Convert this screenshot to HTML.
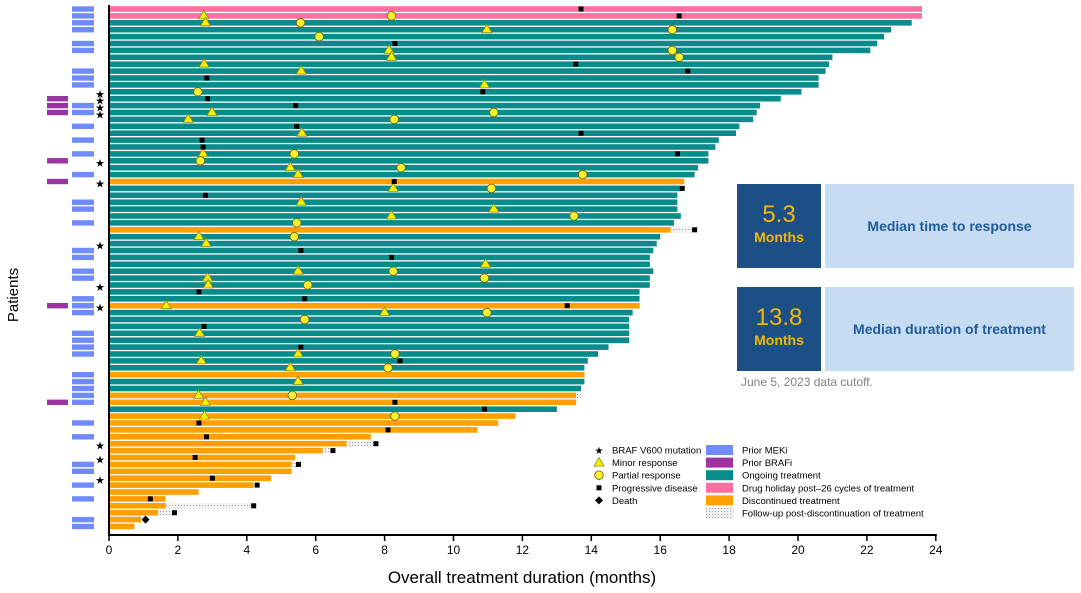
<!DOCTYPE html>
<html><head><meta charset="utf-8">
<style>
html,body{margin:0;padding:0;background:#fff;}
#wrap{position:relative;width:1081px;height:593px;overflow:hidden;font-family:"Liberation Sans",sans-serif;}
svg{position:absolute;left:0;top:0;}
.box{position:absolute;}
</style></head>
<body>
<div id="wrap">
<svg id="chart" width="1081" height="593"></svg>
<div class="box" style="left:737px;top:184px;width:84px;height:84px;background:#1b4f86;color:#f5b800;text-align:center;">
  <div style="font-size:24px;margin-top:18px;line-height:26px;">5.3</div>
  <div style="font-size:14px;font-weight:bold;line-height:18px;">Months</div>
</div>
<div class="box" style="left:825px;top:184px;width:249px;height:84px;background:#c6dcf2;color:#1f5a99;font-weight:bold;font-size:14px;line-height:84px;text-align:center;">Median time to response</div>
<div class="box" style="left:737px;top:287px;width:84px;height:84px;background:#1b4f86;color:#f5b800;text-align:center;">
  <div style="font-size:24px;margin-top:18px;line-height:26px;">13.8</div>
  <div style="font-size:14px;font-weight:bold;line-height:18px;">Months</div>
</div>
<div class="box" style="left:825px;top:287px;width:249px;height:84px;background:#c6dcf2;color:#1f5a99;font-weight:bold;font-size:14px;line-height:84px;text-align:center;">Median duration of treatment</div>
<div class="box" style="left:741px;top:375px;font-size:12px;color:#808080;">June 5, 2023 data cutoff.</div>
</div>
<script>
const durations=[23.6,23.6,23.3,22.7,22.5,22.3,22.1,21.0,20.9,20.8,20.6,20.6,20.1,19.5,18.9,18.8,18.7,18.3,18.2,17.7,17.6,17.4,17.4,17.1,17.0,16.7,16.6,16.5,16.5,16.5,16.6,16.4,16.3,16.0,15.9,15.8,15.7,15.7,15.8,15.7,15.7,15.4,15.4,15.4,15.2,15.1,15.1,15.1,15.1,14.5,14.2,13.9,13.8,13.8,13.8,13.7,13.56,13.56,13.0,11.8,11.3,10.7,7.6,6.9,6.2,5.4,5.3,5.3,4.7,4.2,2.6,1.64,1.64,1.43,0.93,0.74];
const pinkRows=[0,1];
const orangeRows=[25,32,43,53,56,57,59,60,61,62,63,64,65,66,67,68,69,70,71,72,73,74,75];
const followRows=[32,56,63,64,66,72,73];
const followEnd=[17.0,13.7,7.75,6.5,5.5,4.2,1.9];
const squarePts=[[0,13.7],[1,16.55],[5,8.3],[8,13.55],[9,16.8],[10,2.84],[12,10.85],[13,2.86],[14,5.42],[17,5.45],[18,13.7],[19,2.7],[20,2.73],[21,16.5],[25,8.28],[26,16.64],[27,2.8],[32,17.0],[35,5.57],[36,8.2],[41,2.61],[42,5.68],[43,13.3],[46,2.76],[49,5.57],[51,8.45],[57,8.3],[58,10.9],[60,2.61],[61,8.1],[62,2.83],[63,7.75],[64,6.5],[65,2.5],[66,5.5],[68,3.0],[69,4.3],[71,1.2],[72,4.2],[73,1.9]];
const trianglePts=[[1,2.75],[2,2.8],[3,10.97],[6,8.13],[7,8.2],[8,2.76],[9,5.58],[11,10.9],[15,2.99],[16,2.3],[18,5.6],[21,2.73],[23,5.26],[24,5.49],[26,8.25],[28,5.58],[29,11.17],[30,8.2],[33,2.61],[34,2.82],[37,10.93],[38,5.49],[39,2.86],[40,2.88],[43,1.66],[44,8.0],[47,2.63],[50,5.49],[51,2.68],[52,5.26],[54,5.49],[56,2.6],[57,2.8],[59,2.77]];
const circlePts=[[1,8.2],[2,5.56],[3,16.35],[4,6.1],[6,16.35],[7,16.55],[12,2.58],[15,11.17],[16,8.28],[21,5.38],[22,2.65],[23,8.48],[24,13.75],[26,11.1],[30,13.5],[31,5.45],[33,5.38],[38,8.25],[39,10.9],[40,5.77],[44,10.97],[45,5.68],[50,8.3],[52,8.1],[56,5.32],[59,8.3]];
const diamondPts=[[74,1.06]];
const starRows=[12,13,14,15,22,25,34,40,43,63,65,68];
const mekRows=[0,1,2,3,5,6,9,10,11,14,15,17,19,21,24,28,29,31,35,36,38,39,42,43,44,47,48,49,50,53,54,55,56,57,60,62,66,67,69,71,74,75];
const brafRows=[13,14,15,22,25,43,57];
const xTicks=[0,2,4,6,8,10,12,14,16,18,20,22,24];

const NS='http://www.w3.org/2000/svg';
const svg=document.getElementById('chart');
const X0=109,SX=34.45;
function xs(m){return X0+m*SX;}
function ys(r){return 9+r*6.9;}
function mk(tag,attrs,parent){const e=document.createElementNS(NS,tag);for(const k in attrs)e.setAttribute(k,attrs[k]);(parent||svg).appendChild(e);return e;}

const defs=mk('defs',{});
const pat=mk('pattern',{id:'dots',width:3,height:3,patternUnits:'userSpaceOnUse'},defs);
mk('rect',{width:3,height:3,fill:'#f2f2f2'},pat);
mk('circle',{cx:1.5,cy:1.5,r:0.6,fill:'#a0a0a0'},pat);

const gBars=mk('g',{});


durations.forEach((d,i)=>{
  let c='#0a8b8b';
  if(pinkRows.includes(i))c='#ff6f9f';
  if(orangeRows.includes(i))c='#ffa000';
  const r=mk('rect',{x:X0+1,y:ys(i)-2.8,width:xs(d)-X0-1,height:5.6,fill:c},gBars);
  
  
});
followRows.forEach((row,j)=>{
  const s=durations[row];
  const r=mk('rect',{x:xs(s),y:ys(row)-2.6,width:xs(followEnd[j])-xs(s),height:5.2,fill:'url(#dots)'},gBars);
  
  
});
mekRows.forEach(row=>{
  const r=mk('rect',{x:72,y:ys(row)-2.7,width:22,height:5.4,fill:'#6f8bff'});
  
  
});
brafRows.forEach(row=>{
  const r=mk('rect',{x:47,y:ys(row)-2.7,width:21,height:5.4,fill:'#9c33a3'});
  
  
});
starRows.forEach(row=>{
  const t=mk('text',{x:100,y:ys(row)+6,'font-size':11,'text-anchor':'middle',fill:'#000'});
  t.textContent='★';
  
  
});
trianglePts.forEach(p=>{
  const x=xs(p[1]),y=ys(p[0]);
  const t=mk('polygon',{points:`${x},${y-5.5} ${x-5},${y+3} ${x+5},${y+3}`,fill:'#f4f000',stroke:'#8a8a20','stroke-width':0.8});
  
  
});
circlePts.forEach(p=>{
  const c=mk('circle',{cx:xs(p[1]),cy:ys(p[0]),r:4.3,fill:'#f8f030',stroke:'#6a6a10','stroke-width':0.9});
  
  
});
squarePts.forEach(p=>{
  const s=mk('rect',{x:xs(p[1])-2.5,y:ys(p[0])-2.5,width:5,height:5,fill:'#000'});
  
  
});
diamondPts.forEach(p=>{
  const x=xs(p[1]),y=ys(p[0]);
  const d=mk('polygon',{points:`${x},${y-4} ${x+4},${y} ${x},${y+4} ${x-4},${y}`,fill:'#000'});
  
  
});
const ya=mk('line',{x1:X0,y1:5,x2:X0,y2:536,stroke:'#000','stroke-width':2});


const xa=mk('line',{x1:X0-1,y1:535,x2:xs(24)+1,y2:535,stroke:'#000','stroke-width':2});


xTicks.forEach(v=>{
  const l=mk('line',{x1:xs(v),y1:535,x2:xs(v),y2:541,stroke:'#000','stroke-width':1.5});
  
  
  const t=mk('text',{x:xs(v),y:554,'font-size':12,'text-anchor':'middle',fill:'#000'});
  t.textContent=v;
  
  
});
const xt=mk('text',{x:522,y:583,'font-size':17,'text-anchor':'middle',fill:'#000'});
xt.textContent='Overall treatment duration (months)';


const yt=mk('text',{x:0,y:0,'font-size':15,'text-anchor':'middle',fill:'#000',transform:'translate(18,295) rotate(-90)'});
yt.textContent='Patients';



const lg=mk('g',{'font-size':9.5,fill:'#000'});


const leftItems=['BRAF V600 mutation','Minor response','Partial response','Progressive disease','Death'];
const rightItems=['Prior MEKi','Prior BRAFi','Ongoing treatment','Drug holiday post–26 cycles of treatment','Discontinued treatment','Follow-up post-discontinuation of treatment'];
const rightFill=['#6f8bff','#9c33a3','#0a8b8b','#ff6f9f','#ffa000','url(#dots)'];
leftItems.forEach((s,i)=>{
  const y=450+i*12.6;
  const x=599;
  if(i===0){const t=mk('text',{x:x,y:y+4,'font-size':10,'text-anchor':'middle'},lg);t.textContent='★';}
  if(i===1)mk('polygon',{points:`${x},${y-5} ${x-5},${y+3.5} ${x+5},${y+3.5}`,fill:'#f4f000',stroke:'#8a8a20','stroke-width':0.8},lg);
  if(i===2)mk('circle',{cx:x,cy:y,r:4.3,fill:'#f8f030',stroke:'#6a6a10','stroke-width':0.9},lg);
  if(i===3)mk('rect',{x:x-2.5,y:y-2.5,width:5,height:5,fill:'#000'},lg);
  if(i===4)mk('polygon',{points:`${x},${y-4} ${x+4},${y} ${x},${y+4} ${x-4},${y}`,fill:'#000'},lg);
  const t=mk('text',{x:612,y:y+3.5},lg);
  t.textContent=s;
  
  
});
rightItems.forEach((s,i)=>{
  const y=450+i*12.6;
  mk('rect',{x:706,y:y-5,width:27,height:10,fill:rightFill[i],stroke:i===5?'#ccc':'none','stroke-width':0.5},lg);
  const t=mk('text',{x:742,y:y+3.5},lg);
  t.textContent=s;
  
  
});
</script>
</body></html>
